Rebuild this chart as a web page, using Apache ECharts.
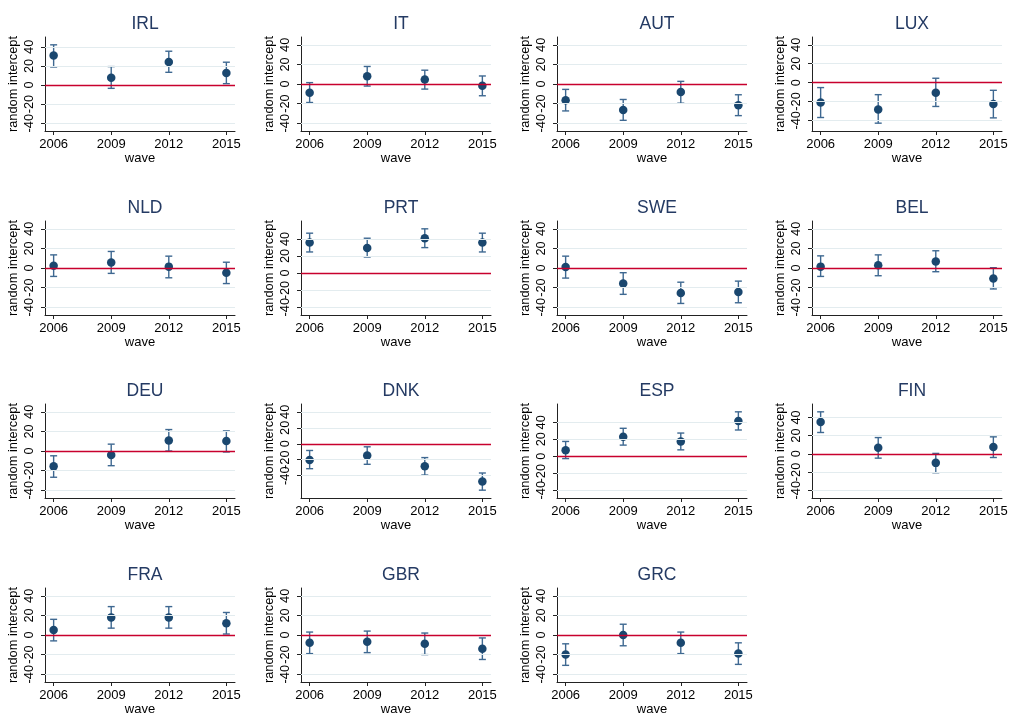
<!DOCTYPE html>
<html>
<head>
<meta charset="utf-8">
<script src="https://cdn.jsdelivr.net/npm/echarts@6.0.0/dist/echarts.min.js"></script>
<style>
  html, body { margin: 0; padding: 0; background: #fff; }
  #chart { width: 1017px; height: 720px; }
</style>
</head>
<body>
<div id="chart"></div>
<script>
const countries = ["IRL", "IT", "AUT", "LUX", "NLD", "PRT", "SWE", "BEL", "DEU", "DNK", "ESP", "FIN", "FRA", "GBR", "GRC"];
const waves = [2006, 2009, 2012, 2015];
const yTicks = [-40, -20, 0, 20, 40];

// random intercept per country (rows) and wave (columns)
const estimates = [
  [30.9, 7.7, 24.2, 12.6],      // IRL
  [-8.9, 7.9, 4.5, -1.7],       // IT
  [-16.5, -26.5, -8.2, -21.6],  // AUT
  [-21.0, -28.5, -10.7, -22.8], // LUX
  [2.4, 5.5, 1.4, -4.8],        // NLD
  [35.7, 29.4, 40.8, 35.7],     // PRT
  [1.0, -15.9, -25.5, -24.5],   // SWE
  [1.4, 2.8, 6.6, -10.7],       // BEL
  [-15.7, -4.2, 10.8, 10.1],    // DEU
  [-20.2, -14.7, -28.2, -47.2], // DNK
  [7.1, 23.0, 17.4, 41.6],      // ESP
  [34.9, 6.7, -10.0, 7.4],      // FIN
  [5.0, 18.0, 18.0, 12.0],      // FRA
  [-8.0, -7.0, -9.0, -14.0],    // GBR
  [-20.0, 0.0, -8.0, -19.0],    // GRC
];

// lower / upper ends of the confidence intervals
const lower = [
  [18.9, -3.5, 13.3, 1.4],
  [-18.9, -2.1, -5.2, -12.0],
  [-27.5, -37.1, -19.6, -32.3],
  [-37.0, -43.0, -25.3, -37.4],
  [-8.6, -5.5, -10.0, -15.9],
  [24.7, 18.8, 29.8, 24.7],
  [-10.3, -26.9, -36.2, -35.5],
  [-8.6, -7.9, -3.8, -21.4],
  [-26.8, -15.0, 0.0, -1.0],
  [-31.2, -25.7, -39.2, -58.1],
  [-2.8, 13.1, 7.5, 30.9],
  [23.4, -4.8, -20.8, -4.1],
  [-6.0, 7.0, 7.0, 1.0],
  [-19.0, -18.0, -20.0, -25.0],
  [-31.0, -11.0, -19.0, -30.0],
];
const upper = [
  [42.1, 19.3, 35.4, 23.9],
  [1.4, 17.9, 14.1, 8.2],
  [-5.5, -15.8, 2.7, -11.0],
  [-5.3, -12.8, 4.6, -8.2],
  [13.4, 16.9, 12.1, 5.9],
  [46.7, 40.8, 51.8, 46.7],
  [12.1, -4.8, -14.5, -13.4],
  [12.4, 13.4, 17.6, 0.3],
  [-4.9, 7.0, 21.9, 20.5],
  [-8.4, -3.8, -17.3, -36.6],
  [17.4, 32.9, 27.3, 52.3],
  [46.1, 17.8, 0.4, 18.6],
  [16.0, 29.0, 29.0, 23.0],
  [3.0, 4.0, 2.0, -3.0],
  [-9.0, 11.0, 3.0, -8.0],
];

/*
  Panel layout
*/
const colLeft = [45, 301, 557, 812];
const rowTop = [37, 221, 404, 588];
const plotW = 190;
const plotH = 94;

const pointColor = "#1a476f";
const capColor = "#3e6891";
const zeroColor = "#c8002d";
const gridColor = "#e3ecef";
const axisColor = "#222";
const font = "Liberation Sans";

function renderErrorBar(params, api) {
  const x = api.value(0);
  const lo = api.coord([x, api.value(1)]);
  const hi = api.coord([x, api.value(2)]);
  const w = 3.5;
  const style = { stroke: capColor, lineWidth: 1.4 };

  return {
    type: "group",
    children: [
      { type: "line", shape: { x1: lo[0], y1: lo[1], x2: hi[0], y2: hi[1] }, style },
      { type: "line", shape: { x1: lo[0] - w, y1: lo[1], x2: lo[0] + w, y2: lo[1] }, style },
      { type: "line", shape: { x1: hi[0] - w, y1: hi[1], x2: hi[0] + w, y2: hi[1] }, style },
    ],
  };
}

function yLabel(values) {
  // labels are split over two stacked axes so that echarts does not drop
  // the ones that touch each other (they overlap in the original too)
  return {
    customValues: values,
    formatter: (v) => String(v),
    hideOverlap: false,
    showMinLabel: true,
    showMaxLabel: true,
    rotate: 90,
    fontSize: 12.8,
    color: "#000",
    margin: 9,
    fontFamily: font,
  };
}

const grid = [];
const xAxis = [];
const yAxis = [];
const title = [];
const series = [];

countries.forEach((name, i) => {
  const left = colLeft[i % 4];
  const top = rowTop[Math.floor(i / 4)];

  // y range: data and ticks, padded by 10% of the span
  const lo = Math.min(-40, ...lower[i]);
  const hi = Math.max(40, ...upper[i]);
  const pad = (hi - lo) * 0.1;

  grid.push({ left, top, width: plotW, height: plotH, containLabel: false });

  title.push({
    text: name,
    left: left + plotW / 2,
    top: top - 27,
    textAlign: "center",
    textStyle: { fontSize: 17.5, fontWeight: "normal", color: "#243a63", fontFamily: font },
  });

  xAxis.push({
    gridIndex: i,
    type: "value",
    min: 2005.55,
    max: 2015.45,
    name: "wave",
    nameLocation: "middle",
    nameGap: 21,
    nameTextStyle: { fontSize: 13, color: "#000", fontFamily: font },
    axisLine: { show: true, onZero: false, lineStyle: { color: axisColor, width: 1 } },
    axisTick: { show: true, length: 4, customValues: waves, lineStyle: { color: axisColor } },
    axisLabel: {
      customValues: waves,
      formatter: (v) => String(v),
      hideOverlap: false,
      showMinLabel: true,
      showMaxLabel: true,
      fontSize: 13,
      color: "#000",
      margin: 7,
      fontFamily: font,
    },
    splitLine: { show: false },
  });

  // main y axis: line, ticks, name and every other label
  yAxis.push({
    gridIndex: i,
    type: "value",
    position: "left",
    min: lo - pad,
    max: hi + pad,
    name: "random intercept",
    nameLocation: "middle",
    nameGap: 25,
    nameRotate: 90,
    nameTextStyle: { fontSize: 12.8, color: "#000", fontFamily: font },
    axisLine: { show: true, onZero: false, lineStyle: { color: axisColor, width: 1 } },
    axisTick: { show: true, length: 4, customValues: yTicks, lineStyle: { color: axisColor } },
    axisLabel: yLabel(yTicks.filter((t, k) => k % 2 === 0)),
    splitLine: { show: false },
  });

  // companion y axis carrying the remaining labels
  yAxis.push({
    gridIndex: i,
    type: "value",
    position: "left",
    offset: 0,
    min: lo - pad,
    max: hi + pad,
    axisLine: { show: false, onZero: false },
    axisTick: { show: false },
    axisLabel: yLabel(yTicks.filter((t, k) => k % 2 === 1)),
    splitLine: { show: false },
  });

  series.push({
    type: "custom",
    xAxisIndex: i,
    yAxisIndex: 2 * i,
    z: 2,
    renderItem: renderErrorBar,
    encode: { x: 0, y: [1, 2] },
    data: waves.map((w, j) => [w, lower[i][j], upper[i][j]]),
    markLine: {
      silent: true,
      symbol: "none",
      label: { show: false },
      animation: false,
      data: yTicks.map((t) => ({
        yAxis: t,
        lineStyle: t === 0
          ? { color: zeroColor, width: 1.3, type: "solid" }
          : { color: gridColor, width: 1, type: "solid" },
      })),
    },
  });

  series.push({
    type: "scatter",
    xAxisIndex: i,
    yAxisIndex: 2 * i,
    z: 3,
    symbol: "circle",
    symbolSize: 8.5,
    itemStyle: { color: pointColor, opacity: 1 },
    data: waves.map((w, j) => [w, estimates[i][j]]),
  });
});

const chart = echarts.init(document.getElementById("chart"), null, { renderer: "canvas" });
chart.setOption({
  animation: false,
  backgroundColor: "#fff",
  textStyle: { fontFamily: font },
  title,
  grid,
  xAxis,
  yAxis,
  series,
});
</script>
</body>
</html>
